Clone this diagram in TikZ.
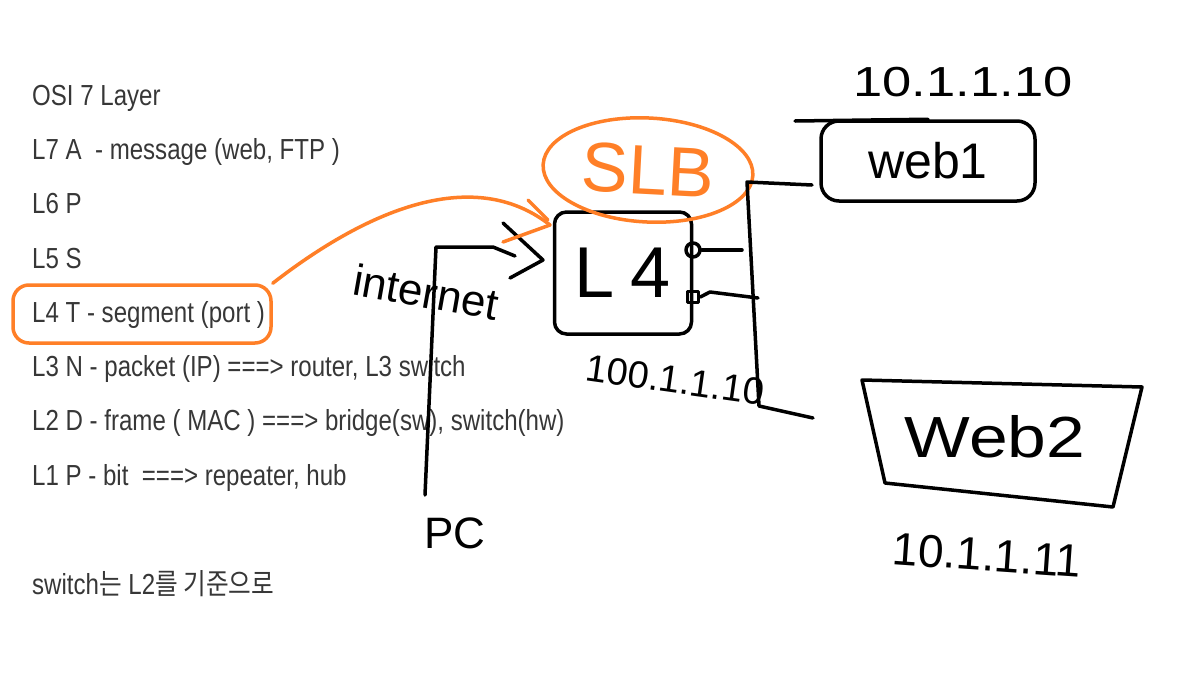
\documentclass[tikz,border=0pt]{standalone}
\usepackage{fontspec}
\setmainfont{Liberation Sans}
\newfontfamily\osifont[FakeStretch=0.83]{Liberation Sans}
\newfontfamily\krfont[FakeStretch=0.85]{Noto Sans CJK KR}
\usepackage{xcolor}
\usetikzlibrary{shapes.geometric}
\definecolor{paintorange}{RGB}{255,127,39}
\definecolor{notegray}{RGB}{55,55,55}

\begin{document}
\begin{tikzpicture}[x=1pt,y=-1pt,
  pen/.style={line width=3.5pt,line cap=round,line join=round},
  marker/.style={pen,paintorange},
  osiline/.style={anchor=base west,inner sep=0pt,text=notegray,font=\osifont\fontsize{29}{31}\selectfont},
  hand/.style={inner sep=0pt,font=\fontsize{#1}{#1}\selectfont}]
  \fill[white] (0,0) rectangle (1179,691);
  \useasboundingbox (0,0) rectangle (1179,691);

  \node[osiline] (osi) at (32,105) {OSI 7 Layer};
  \node[osiline] (l7) at (32,159) {L7 A\ \ - message (web, FTP )};
  \node[osiline] (l6) at (32,213) {L6 P};
  \node[osiline] (l5) at (32,268) {L5 S};
  \node[osiline] (l4t) at (32,322) {L4 T - segment (port )};
  \node[osiline] (l3) at (32,376) {L3 N - packet (IP) ===> router, L3 switch};
  \node[osiline] (l2) at (32,430) {L2 D - frame ( MAC ) ===> bridge(sw), switch(hw)};
  \node[osiline] (l1) at (32,485) {L1 P - bit\ \ ===> repeater, hub};
  \node[osiline] (note) at (32,594) {switch{\krfont 는} L2{\krfont 를 기준으로}};

  \node[draw=paintorange,line width=3.5pt,rounded corners=16pt,minimum width=258pt,minimum height=58pt] (l4mark) at (142,314) {};

  \node[pen,draw,rounded corners=12pt,minimum width=137pt,minimum height=122pt,font=\fontsize{72}{72}\selectfont] (lfour) at (623,273) {L\hspace{16pt}4};
  \node[marker,draw,ellipse,rotate=-3,minimum width=210pt,minimum height=104pt,text=paintorange,font=\fontsize{70}{70}\selectfont] (slb) at (648,170) {SLB};
  \node[pen,draw,circle,minimum size=14pt,inner sep=0pt] (port1) at (693,250) {};
  \node[pen,draw,minimum size=11pt,inner sep=0pt] (port2) at (693,297) {};

  \node[pen,draw,rounded corners=18pt,minimum width=214pt,minimum height=80pt,font=\fontsize{50}{50}\selectfont] (web1) at (928,161) {web1};
  \draw[pen] (862,380) coordinate (w2a) -- (1142,387) coordinate (w2b) -- (1113,507) coordinate (w2c) -- (885,483) coordinate (w2d) -- cycle;
  \node[hand=58,xscale=1.2] (web2) at (995,437) {Web2};

  \node[hand=44,rotate=-10] (inet) at (426,292) {internet};
  \node[hand=44] (pc) at (455,533) {PC};
  \node[hand=38,rotate=-8] (vip) at (675,380) {100.1.1.10};
  \node[hand=42,xscale=1.25] (ip1) at (963,82) {10.1.1.10};
  \node[hand=46,rotate=-4] (ip3) at (987,555) {10.1.1.11};

  \coordinate (pcup) at (425,495);
  \coordinate (intip) at (543,260);
  \coordinate (tip) at (550,225);
  \coordinate (trunktop) at (747,182);
  \coordinate (trunkbot) at (759,406);
  \coordinate (w1in) at (812,185);
  \coordinate (w2in) at (813,418);

  \draw[pen] (pcup) -- (436,247) -- (493,247) -- (515,256);
  \draw[pen] (503,223) -- (intip) -- (510,278);

  \draw[marker] (l4mark.north east) .. controls (380,200) and (480,170) .. (tip);
  \draw[marker] (tip) -- (503,242);
  \draw[marker] (528,200) -- (548,220);

  \draw[pen] (port1) -- (742,250);
  \draw[pen] (port2.east) -- (710,292) -- (758,298);
  \draw[pen] (w1in) -- (trunktop) -- (trunkbot) -- (w2in);
  \draw[pen] (795,121) -- (web1.north);
\end{tikzpicture}
\end{document}
